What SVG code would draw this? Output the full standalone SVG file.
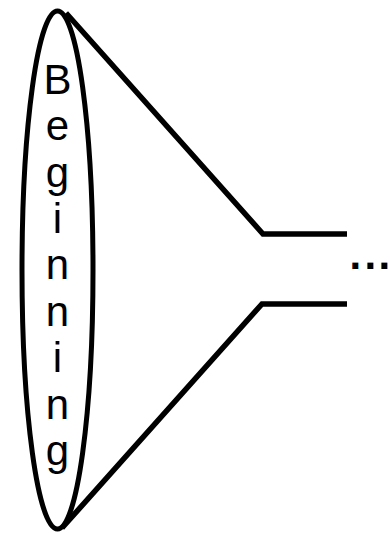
<svg xmlns="http://www.w3.org/2000/svg" width="390" height="533" viewBox="0 0 390 533">
<style>
.ln{fill:none;stroke:#000;stroke-width:5.5;stroke-linejoin:miter}
.lt{font-family:"Liberation Sans",Arial,sans-serif;font-size:42px;fill:#000;text-anchor:middle}
.dots{font-family:"Liberation Sans",Arial,sans-serif;font-size:42px;font-weight:bold;fill:#000}
</style>
<rect width="390" height="533" fill="#fff"/>
<g id="connectors">
<polyline class="ln" points="66,13 263,234 347,234"/>
<polyline class="ln" points="62,528 262,304 347,304"/>
</g>
<g id="beginning">
<ellipse cx="57.5" cy="270" rx="35.5" ry="259" fill="none" stroke="#000" stroke-width="5"/>
<text class="lt" x="57.5" y="94">B</text>
<text class="lt" x="57.5" y="140">e</text>
<text class="lt" x="57.5" y="187">g</text>
<text class="lt" x="57.5" y="233">i</text>
<text class="lt" x="57.5" y="279">n</text>
<text class="lt" x="57.5" y="326">n</text>
<text class="lt" x="57.5" y="372">i</text>
<text class="lt" x="57.5" y="419">n</text>
<text class="lt" x="57.5" y="465">g</text>
</g>
<g id="more">
<text class="dots" x="349.5 364.5 378.5" y="269">...</text>
</g>
</svg>
